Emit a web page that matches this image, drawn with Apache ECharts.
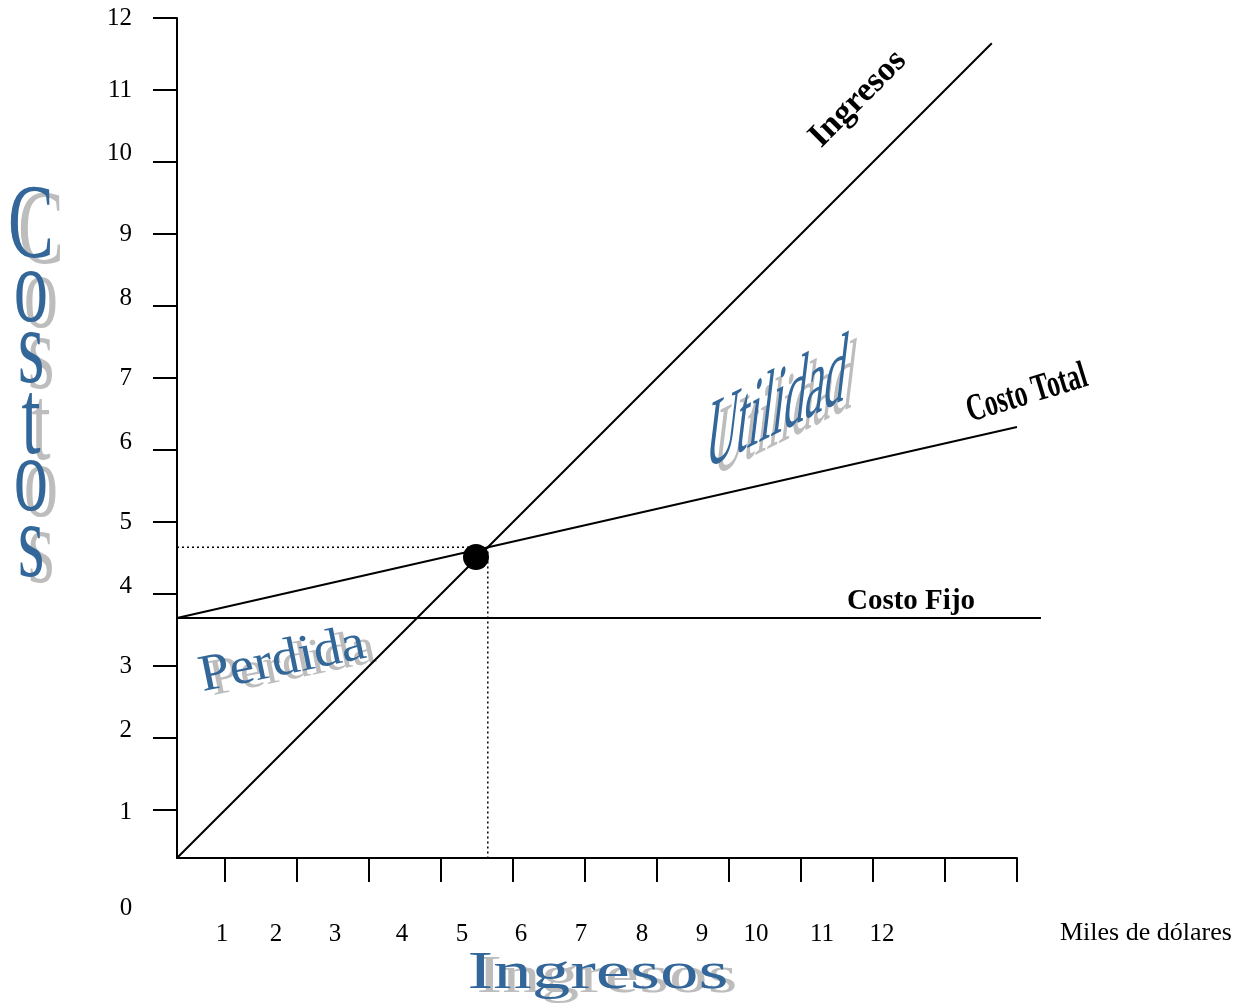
<!DOCTYPE html>
<html><head><meta charset="utf-8">
<script src="https://cdn.jsdelivr.net/npm/echarts@6/dist/echarts.min.js"></script>
<style>html,body{margin:0;padding:0;background:#fff}#c{width:1252px;height:1007px}</style>
</head><body><div id="c"></div>
<script>
// ---- data ----
const xTickValues = [1,2,3,4,5,6,7,8,9,10,11,12];
const xTickLabels = ['1','2','3','4','5','6','7','8','9','10','11','12'];
const xLabelPos   = [0.958,1.708,2.528,3.458,4.292,5.111,5.944,6.792,7.625,8.375,9.292,10.125];
const yTickValues = [1,2,3,4,5,6,7,8,9,10,11,12];
const yTickLabels = ['1','2','3','4','5','6','7','8','9','10','11','12'];
const yLabelPos   = [0.972,2.11,3,4.11,5,6.11,7,8.11,9,10.125,11,12];
const axisMin = 1/3, axisMax = 12;
const costoFijoAxisMax = 12 + 1/3;

const ingresosX   = [1/3, 11.65];
const ingresosY   = [1/3, 11.65];
const costoTotalX = [1/3, 12];
const costoTotalY = [3.667, 6.32];
const costoFijoX  = [1/3, 12.333];
const costoFijoY  = [3.667, 3.667];
const equilibrioX = [4.486];
const equilibrioY = [4.514];
const guideX = [1/3, 4.65, 4.65];
const guideY = [4.65, 4.65, 1/3];

const pairs = (xs, ys) => xs.map((x, i) => [x, ys[i]]);
const serif = '"Liberation Serif","Times New Roman",serif';
const BLUE = '#336699', GRAY = '#bdbdbd';

function findLabel(v, pos, labels) {
  let best = 0, d = 1e9;
  pos.forEach((p, i) => { if (Math.abs(p - v) < d) { d = Math.abs(p - v); best = i; } });
  return labels[best];
}

// ---- decorative texts ----
const costosLetters = 'Costos'.split('');
const costosY = [229, 293, 354, 425, 482, 548];
const gfx = [];
function shadowText(text, x, y, dx, dy, style, tr) {
  gfx.push(Object.assign({type:'text', x:x+dx, y:y+dy, z:1, style:Object.assign({text, fill:GRAY}, style)}, tr||{}));
  gfx.push(Object.assign({type:'text', x:x, y:y, z:2, style:Object.assign({text, fill:BLUE}, style)}, tr||{}));
}
costosLetters.forEach((ch, i) => {
  shadowText(ch, 31, costosY[i], 10, 6,
    {font:'70px ' + serif, textAlign:'center', textVerticalAlign:'middle', stroke:BLUE, lineWidth:0},
    {scaleX:0.98, scaleY:1.5});
});
shadowText('Ingresos', 598, 974, 9, 4,
  {font:'52px ' + serif, textAlign:'center', textVerticalAlign:'middle'},
  {scaleX:1.48, scaleY:1});
shadowText('Utilidad', 707, 443, 8, 7,
  {font:'60px ' + serif, textAlign:'left', textVerticalAlign:'middle'},
  {scaleX:0.71, scaleY:1.7, skewY:0.4636, skewX:-0.12});
shadowText('Perdida', 200, 678, 10, 4,
  {font:'52px ' + serif, textAlign:'left', textVerticalAlign:'middle'},
  {rotation:0.204, scaleX:1.06});

// line labels
gfx.push({type:'text', x:858, y:99, rotation:Math.PI/4, z:3,
  style:{text:'Ingresos', font:'bold 34px ' + serif, fill:'#000', textAlign:'center', textVerticalAlign:'middle'}});
gfx.push({type:'text', x:1027, y:394, rotation:0.297, scaleX:0.85, scaleY:1.28, z:3,
  style:{text:'Costo Total', font:'bold 30px ' + serif, fill:'#000', textAlign:'center', textVerticalAlign:'middle'}});
gfx.push({type:'text', x:911, y:602, z:3,
  style:{text:'Costo Fijo', font:'bold 29px ' + serif, fill:'#000', textAlign:'center', textVerticalAlign:'middle'}});
gfx.push({type:'text', x:1060, y:933, z:3,
  style:{text:'Miles de dólares', font:'26px ' + serif, fill:'#000', textAlign:'left', textVerticalAlign:'middle'}});
gfx.push({type:'text', x:126, y:908, z:3,
  style:{text:'0', font:'25px ' + serif, fill:'#000', textAlign:'center', textVerticalAlign:'middle'}});

const chart = echarts.init(document.getElementById('c'), null, {renderer:'canvas'});
const lineStyle = {color:'#000', width:2};
chart.setOption({
  animation:false,
  backgroundColor:'#fff',
  grid:[
    {left:177, right:235, top:18, bottom:149, containLabel:false, outerBoundsMode:'none'},
    {left:177, right:211, top:18, bottom:149, containLabel:false, outerBoundsMode:'none'}
  ],
  xAxis:[{
    type:'value', gridIndex:0, min:axisMin, max:axisMax,
    axisLine:{show:true, onZero:false, lineStyle:{color:'#000', width:2}},
    axisTick:{show:true, customValues:xTickValues, length:24, lineStyle:{color:'#000', width:2}},
    axisLabel:{show:true, customValues:xLabelPos, margin:64, color:'#000', fontSize:25, fontFamily:serif,
      formatter:v => findLabel(v, xLabelPos, xTickLabels)},
    splitLine:{show:false}
  }, {
    type:'value', gridIndex:1, min:axisMin, max:costoFijoAxisMax, show:false, splitLine:{show:false}
  }],
  yAxis:[{
    type:'value', gridIndex:0, min:axisMin, max:axisMax,
    axisLine:{show:true, onZero:false, lineStyle:{color:'#000', width:2}},
    axisTick:{show:true, customValues:yTickValues, length:24, lineStyle:{color:'#000', width:2}},
    axisLabel:{show:true, customValues:yLabelPos, margin:45, color:'#000', fontSize:25, fontFamily:serif,
      formatter:v => findLabel(v, yLabelPos, yTickLabels)},
    splitLine:{show:false}
  }, {
    type:'value', gridIndex:1, min:axisMin, max:axisMax, show:false, splitLine:{show:false}
  }],
  series:[
    {type:'line', name:'Ingresos', data:pairs(ingresosX, ingresosY), symbol:'none', lineStyle, z:5},
    {type:'line', name:'Costo Total', data:pairs(costoTotalX, costoTotalY), symbol:'none', lineStyle, z:5},
    {type:'line', name:'Costo Fijo', xAxisIndex:1, yAxisIndex:1, data:pairs(costoFijoX, costoFijoY), symbol:'none', lineStyle, z:5},
    {type:'line', name:'Guía', data:pairs(guideX, guideY), symbol:'none',
      lineStyle:{color:'#000', width:1.5, type:[2,3]}, z:4},
    {type:'scatter', name:'Punto de equilibrio', data:pairs(equilibrioX, equilibrioY), symbol:'circle', symbolSize:26,
      itemStyle:{color:'#000', opacity:1}, z:6}
  ],
  graphic:gfx
});
</script>
</body></html>
